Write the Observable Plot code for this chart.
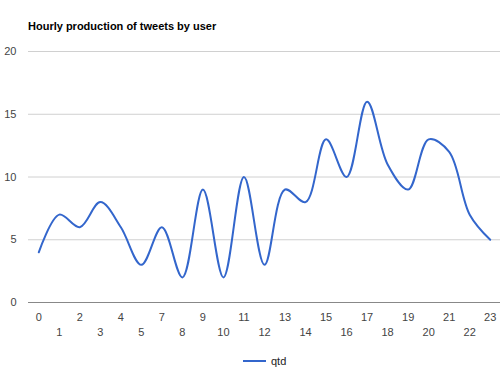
<!DOCTYPE html>
<html>
<head>
<meta charset="utf-8">
<script src="https://cdn.jsdelivr.net/npm/d3@7"></script>
<script src="https://cdn.jsdelivr.net/npm/@observablehq/plot@0.6"></script>
<style>
  body { margin: 0; background: #fff; font-family: Arial, "Liberation Sans", sans-serif; }
  #wrap { position: relative; width: 504px; height: 377px; overflow: hidden; }
  #title { height: 40px; box-sizing: border-box; padding: 19px 0 0 28px; line-height: 14px;
           font-weight: bold; font-size: 11px; color: #000; }
  #legend { position: absolute; left: 243px; top: 353px; display: flex; align-items: center;
            font-size: 11px; color: #222; line-height: 16px; }
  #legend .swatch { width: 23px; height: 2px; background: #3366cc; margin-right: 5px; }
</style>
</head>
<body>
<div id="wrap">
  <div id="title">Hourly production of tweets by user</div>
  <div id="chart"></div>
  <div id="legend"><span class="swatch"></span><span>qtd</span></div>
</div>
<script>
// Hours of the day (hour 6 has no entry) and tweet counts per hour
const hours = ["0","1","2","3","4","5","7","8","9","10","11","12","13","14","15","16","17","18","19","20","21","22","23"];
const qtd = [4, 7, 6, 8, 6, 3, 6, 2, 9, 2, 10, 3, 9, 8, 13, 10, 16, 11, 9, 13, 12, 7, 5];
const yTicks = [0, 5, 10, 15, 20];

const rows = hours.map((h, i) => ({hour: h, qtd: qtd[i]}));
// Hour labels alternate between two staggered rows
const rowA = hours.filter((d, i) => i % 2 === 0);
const rowB = hours.filter((d, i) => i % 2 === 1);

const chart = Plot.plot({
  width: 504,
  height: 305,
  marginTop: 11,
  marginLeft: 28,
  marginRight: 4,
  marginBottom: 43,
  style: {fontFamily: "Arial, 'Liberation Sans', sans-serif", fontSize: "11px", color: "#444", background: "#fff"},
  x: {type: "point", domain: hours, padding: 0.5, round: false, axis: null},
  y: {domain: [0, 20], axis: null},
  marks: [
    Plot.gridY(yTicks.filter(d => d > 0), {stroke: "#d0d0d0", strokeOpacity: 1}),
    Plot.ruleY([0], {stroke: "#888888"}),
    Plot.axisY(yTicks, {tickSize: 0, tickPadding: 12, label: null}),
    Plot.axisX(rowA, {tickSize: 0, tickPadding: 11, label: null}),
    Plot.axisX(rowB, {tickSize: 0, tickPadding: 26, label: null}),
    Plot.line(rows, {x: "hour", y: "qtd", curve: "catmull-rom", stroke: "#3366cc", strokeWidth: 2})
  ]
});
document.getElementById("chart").appendChild(chart);
</script>
</body>
</html>
